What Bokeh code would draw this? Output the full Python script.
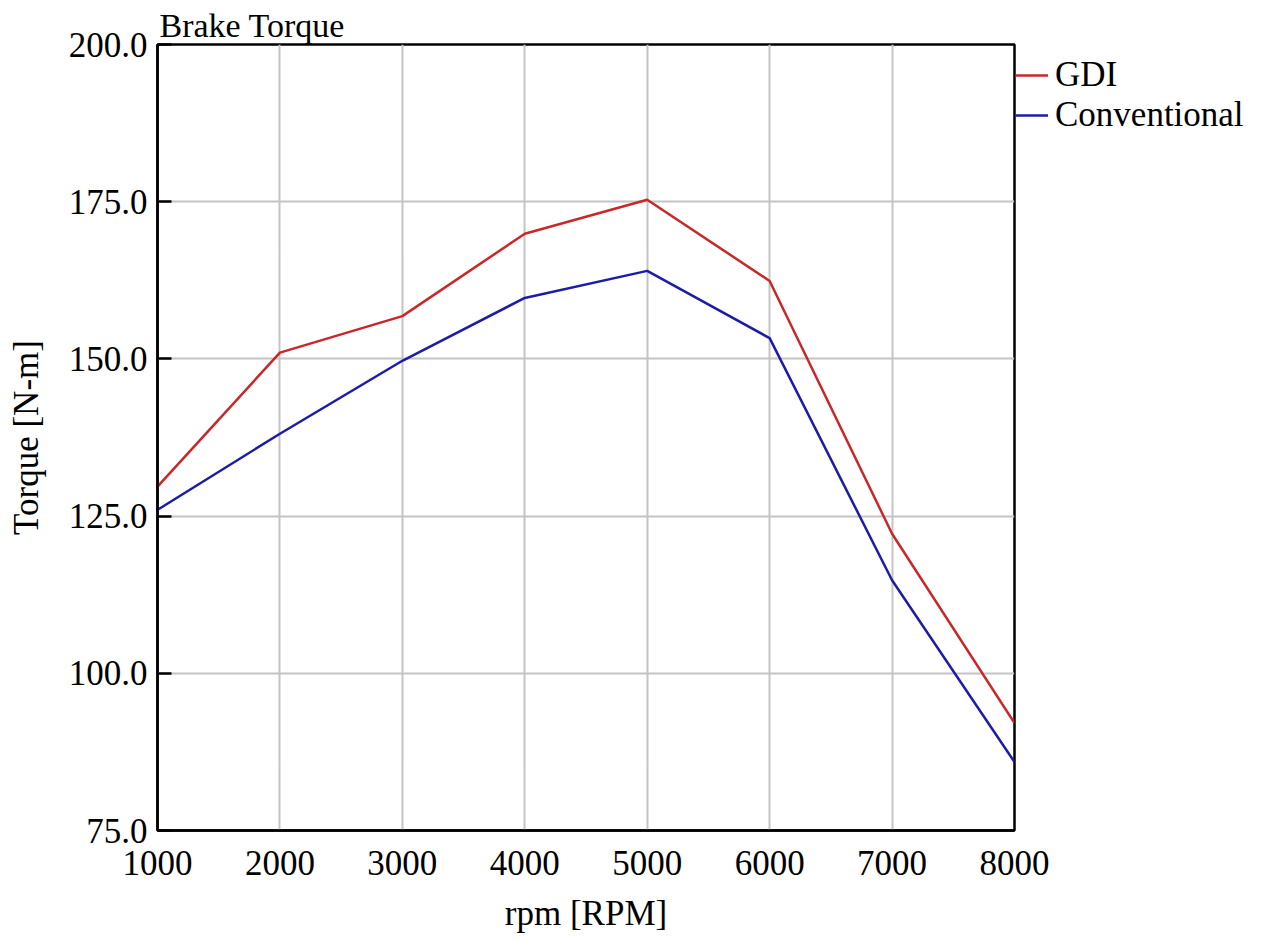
from bokeh.plotting import figure
from bokeh.models import Range1d, FixedTicker, PrintfTickFormatter, Legend, LegendItem
from bokeh.embed import file_html
from bokeh.resources import INLINE

rpm = [1000, 2000, 3000, 4000, 5000, 6000, 7000, 8000]
gdi = [129.7, 151.0, 156.8, 169.9, 175.3, 162.4, 122.2, 92.1]
conventional = [126.0, 138.1, 149.7, 159.7, 164.0, 153.3, 114.8, 85.9]
x_ticks = [1000, 2000, 3000, 4000, 5000, 6000, 7000, 8000]
y_ticks = [75, 100, 125, 150, 175, 200]

FONT = "Liberation Serif"

p = figure(frame_width=857, frame_height=786, output_backend="svg", toolbar_location=None,
           x_range=Range1d(1000, 8000), y_range=Range1d(75, 200),
           min_border_left=157, min_border_right=260, min_border_top=44,
           min_border_bottom=110, title="Brake Torque")

p.title.text_font = FONT
p.title.text_font_size = "34px"
p.title.text_font_style = "normal"
p.title.text_color = "black"
p.title.align = "left"
p.title.offset = 2
p.title.standoff = 2

r1 = p.line(rpm, gdi, line_color="#c8282a", line_width=2.5)
r2 = p.line(rpm, conventional, line_color="#1c1ca6", line_width=2.5)

p.xaxis.ticker = FixedTicker(ticks=x_ticks)
p.yaxis.ticker = FixedTicker(ticks=y_ticks)
p.yaxis.formatter = PrintfTickFormatter(format="%.1f")

for ax in (p.xaxis[0], p.yaxis[0]):
    ax.major_label_text_font = FONT
    ax.major_label_text_font_size = "35px"
    ax.major_label_text_color = "black"
    ax.axis_label_text_font = FONT
    ax.axis_label_text_font_size = "35px"
    ax.axis_label_text_font_style = "normal"
    ax.axis_label_text_color = "black"
    ax.axis_line_color = "black"
    ax.axis_line_width = 2.5
    ax.minor_tick_line_color = None
    ax.major_tick_out = 0

p.xaxis.axis_label = "rpm [RPM]"
p.yaxis.axis_label = "Torque [N-m]"
p.xaxis.major_tick_in = 0
p.xaxis.major_tick_line_color = None
p.yaxis.major_tick_in = 14
p.yaxis.major_tick_line_width = 2.5
p.yaxis.major_tick_line_color = "black"
p.xaxis.major_label_standoff = 20
p.yaxis.major_label_standoff = 10
p.xaxis.axis_label_standoff = 16
p.yaxis.axis_label_standoff = 20

p.xgrid.grid_line_color = "#c4c4c4"
p.ygrid.grid_line_color = "#c4c4c4"
p.xgrid.grid_line_width = 2
p.ygrid.grid_line_width = 2

p.outline_line_color = "black"
p.outline_line_width = 2.5
p.outline_line_alpha = 1

legend = Legend(items=[LegendItem(label="GDI", renderers=[r1]),
                       LegendItem(label="Conventional", renderers=[r2])],
                location="top_left", border_line_color=None,
                background_fill_alpha=0, label_text_font=FONT,
                label_text_color="black",
                title=" ", title_text_font_size="9px", title_standoff=0,
                label_text_font_size="35px", glyph_width=33, glyph_height=36,
                label_height=36, label_standoff=7, spacing=0, padding=9, margin=1)
p.add_layout(legend, "right")

p.background_fill_color = "white"
p.border_fill_color = "white"

open("out.html", "w").write(file_html(p, INLINE))
